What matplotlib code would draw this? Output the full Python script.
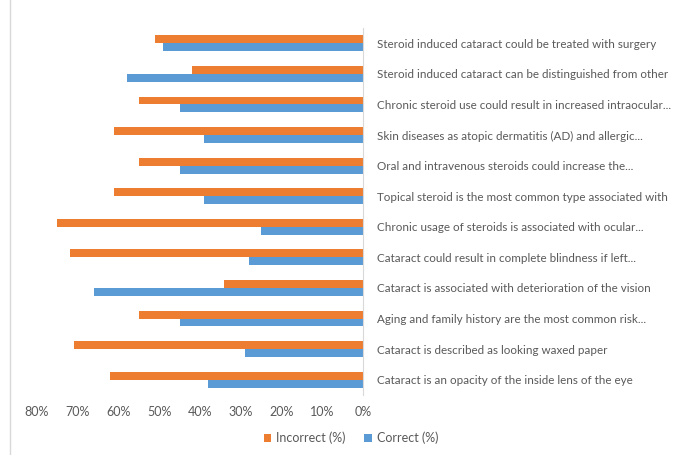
import numpy as np
import matplotlib
matplotlib.use('Agg')
import matplotlib.pyplot as plt
from matplotlib.ticker import FuncFormatter

# -- Data (top to bottom as shown) --
statements = ['Steroid induced cataract could be treated with surgery',
              'Steroid induced cataract can be distinguished from other',
              'Chronic steroid use could result in increased intraocular...',
              'Skin diseases as atopic dermatitis (AD) and allergic...',
              'Oral and intravenous steroids could increase the...',
              'Topical steroid is the most common type associated with',
              'Chronic usage of steroids is associated with ocular...',
              'Cataract could result in complete blindness if left...',
              'Cataract is associated with deterioration of the vision',
              'Aging and family history are the most common risk...',
              'Cataract is described as looking waxed paper',
              'Cataract is an opacity of the inside lens of the eye']
incorrect = [51, 42, 55, 61, 55, 61, 75, 72, 34, 55, 71, 62]
correct = [49, 58, 45, 39, 45, 39, 25, 28, 66, 45, 29, 38]

colorInc = '#ED7D31'
colorCor = '#5B9BD5'
textColor = '#595959'
plt.rcParams['font.family'] = ['Lato', 'DejaVu Sans']

fig = plt.figure(figsize=(6.76, 4.55), dpi=100)
ax = fig.add_axes([37/676, 1-395/455, (363-37)/676, (395-28)/455])

yPos = np.arange(len(statements))
barH = 0.26
ax.barh(yPos - barH/2, np.array(incorrect)/100., height=barH, color=colorInc, label='Incorrect (%)')
ax.barh(yPos + barH/2, np.array(correct)/100., height=barH, color=colorCor, label='Correct (%)')

ax.set_xlim(0.8, 0)
ax.set_ylim(len(statements)-0.5, -0.5)
ax.set_xticks(np.arange(0, 0.81, 0.1))
ax.xaxis.set_major_formatter(FuncFormatter(lambda v, p: '{:.0f}%'.format(v*100)))
ax.set_yticks(yPos)
ax.set_yticklabels(statements)
ax.yaxis.tick_right()
ax.tick_params(axis='y', length=0, pad=10, labelsize=8.4, labelcolor=textColor)
ax.tick_params(axis='x', length=0, pad=8, labelsize=9, labelcolor=textColor)
for side in ['top', 'left', 'bottom']:
    ax.spines[side].set_visible(False)
ax.spines['right'].set_color('#D9D9D9')

fig.add_artist(plt.Line2D([10/676, 10/676], [0, 1], color='#D9D9D9', lw=1))

leg = fig.legend(loc='center', bbox_to_anchor=(351/676, 1-438/455), ncol=2, frameon=False,
                 fontsize=9, handlelength=0.6, handleheight=0.6, handletextpad=0.4, columnspacing=1.5)
for t in leg.get_texts():
    t.set_color(textColor)

fig.savefig('out.png', dpi=100)
